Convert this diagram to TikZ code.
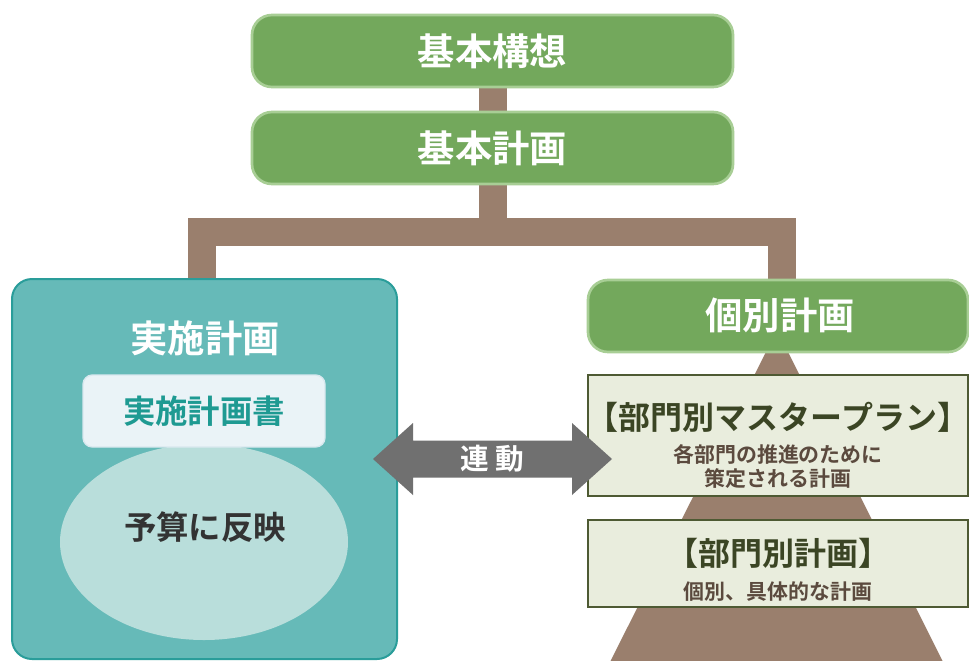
\documentclass[tikz,border=0pt]{standalone}
\usepackage{fontspec}
\setmainfont{Noto Sans CJK JP}[BoldFont={Noto Sans CJK JP Bold}]
\usetikzlibrary{shapes.geometric,backgrounds}
\definecolor{gfill}{HTML}{73A85C}
\definecolor{gborder}{HTML}{A8CE95}
\definecolor{brownc}{HTML}{9A7F6D}
\definecolor{tealfill}{HTML}{66BAB8}
\definecolor{tealborder}{HTML}{2A9D9A}
\definecolor{ellfill}{HTML}{B9DEDB}
\definecolor{docfill}{HTML}{EAF3F7}
\definecolor{docborder}{HTML}{D8E8EE}
\definecolor{docText}{HTML}{1E9A92}
\definecolor{olivefill}{HTML}{E9EDDD}
\definecolor{oliveborder}{HTML}{4E5A33}
\definecolor{olivetext}{HTML}{3B4524}
\definecolor{subtext}{HTML}{5B4A3E}
\definecolor{arrowgray}{HTML}{707070}
\definecolor{darktext}{HTML}{333333}
\tikzset{
  greenbox/.style={draw=gborder, line width=2pt, fill=gfill, rounded corners=15pt,
    minimum height=54pt, text=white, font=\bfseries\fontsize{28}{30}\selectfont, inner sep=0pt},
  brownline/.style={draw=brownc, line width=21pt},
  planbox/.style={draw=oliveborder, line width=1.5pt, fill=olivefill, minimum width=285pt, inner sep=0pt},
  titletext/.style={text=olivetext, font=\bfseries\fontsize{24}{27}\selectfont, inner sep=0pt},
  smalltext/.style={text=subtext, font=\bfseries\fontsize{15.7}{19}\selectfont, align=center, inner sep=0pt},
  whitetitle/.style={text=white, font=\bfseries\fontsize{28}{30}\selectfont, inner sep=0pt},
}
\begin{document}
\begin{tikzpicture}[x=0.75pt,y=-0.75pt]
\useasboundingbox (0,0) rectangle (969,660);
% nodes
\node[greenbox, minimum width=360.75pt] (kousou) at (492.5,51) {基本構想};
\node[greenbox, minimum width=360.75pt] (kihon) at (492.5,148) {基本計画};
\node[draw=tealborder, line width=1.5pt, fill=tealfill, rounded corners=15pt,
      minimum width=288.75pt, minimum height=285pt] (jisshi) at (204.5,469) {};
\node[greenbox, minimum width=285pt] (kobetsu) at (778,316) {};
\node[whitetitle] (kobetsutxt) at (780,315) {個別計画};
\node[whitetitle] (jisshitxt) at (205,338) {実施計画};
\coordinate (brL) at (202,232);
\coordinate (brR) at (782,232);
% background: white page, brown connectors and pyramid
\begin{scope}[on background layer]
  \fill[white] (0,0) rectangle (969,660);
  \fill[brownc] (777,330) -- (943,662) -- (610,662) -- cycle;
  \path[brownline] (kousou.south) -- (kihon.north);
  \path[brownline] (kihon.south) -- (kihon.south |- brL);
  \path[brownline] (jisshi.north -| brL) -- (brL) -- (brR) -- (kobetsu.north -| brR);
\end{scope}
% ellipse and document box
\node[ellipse, fill=ellfill, minimum width=216pt, minimum height=147pt, inner sep=0pt] (budget) at (204,542) {};
\node[text=darktext, font=\bfseries\fontsize{24.3}{26}\selectfont, inner sep=0pt] (budgettxt) at (205,527) {予算に反映};
\node[draw=docborder, line width=1pt, fill=docfill, rounded corners=7pt, minimum width=181.5pt, minimum height=54pt,
      text=docText, font=\bfseries\fontsize{24.3}{26}\selectfont, inner sep=0pt] (doc) at (204,411) {実施計画書};
% plan boxes
\node[planbox, minimum height=90.75pt] (master) at (778,435.5) {};
\node[titletext] (mastertitle) at (778,417) {【部門別マスタープラン】};
\node[smalltext] (mastersub) at (778,466) {各部門の推進のために\\[-1pt]策定される計画};
\node[planbox, minimum height=65.25pt] (bumon) at (778,563.5) {};
\node[titletext] (bumontitle) at (778,553) {【部門別計画】};
\node[smalltext] (bumonsub) at (778,592) {個別、具体的な計画};
% double arrow linking the two plans
\fill[arrowgray] (373,459) -- (413,423) -- (413,440.5) -- (572,440.5) -- (572,423) -- (612,459)
  -- (572,495) -- (572,477.5) -- (413,477.5) -- (413,495) -- cycle;
\node[text=white, font=\bfseries\fontsize{21.5}{24}\selectfont, inner sep=0pt] (rendou) at (492.5,459) {連\hspace{5pt}動};
\end{tikzpicture}
\end{document}
